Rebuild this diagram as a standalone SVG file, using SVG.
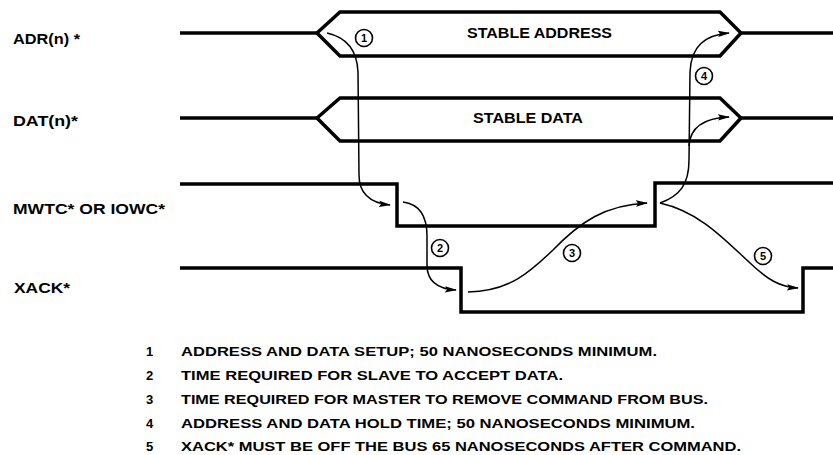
<svg xmlns="http://www.w3.org/2000/svg" width="833" height="455" viewBox="0 0 833 455">
<style>
.sig{fill:none;stroke:#000;stroke-width:3.5;stroke-linejoin:miter}
.arr{fill:none;stroke:#000;stroke-width:1.5}
.lbl{font-family:"Liberation Sans",Arial,sans-serif;font-weight:bold;font-size:14px;fill:#000}
.note{font-family:"Liberation Sans",Arial,sans-serif;font-weight:bold;font-size:13px;fill:#000}
.cn{font-family:"Liberation Sans",Arial,sans-serif;font-weight:bold;font-size:11px;fill:#000;text-anchor:middle}
.cc{fill:#fff;stroke:#000;stroke-width:1.6}
</style>
<defs>
<marker id="ah" viewBox="0 0 12 8" refX="11" refY="4" markerWidth="12" markerHeight="8" markerUnits="userSpaceOnUse" orient="auto">
<path d="M0,0.8 L12,4 L0,7.2 L2,4 z" fill="#000"/>
</marker>
</defs>
<rect width="833" height="455" fill="#fff"/>

<g id="adr">
<text class="lbl" x="13" y="44" textLength="67" lengthAdjust="spacingAndGlyphs">ADR(n) *</text>
<polyline class="sig" points="180,33 317,33"/>
<polygon class="sig" points="317,33 340,12 720,12 741,33 720,56 340,56"/>
<polyline class="sig" points="741,33 833,33"/>
<text class="lbl" x="467" y="38" textLength="145" lengthAdjust="spacingAndGlyphs">STABLE ADDRESS</text>
</g>

<g id="dat">
<text class="lbl" x="13" y="126" textLength="65" lengthAdjust="spacingAndGlyphs">DAT(n)*</text>
<polyline class="sig" points="180,118 317,118"/>
<polygon class="sig" points="317,118 340,98 720,98 741,118 720,141 340,141"/>
<polyline class="sig" points="741,118 833,118"/>
<text class="lbl" x="473" y="123" textLength="110" lengthAdjust="spacingAndGlyphs">STABLE DATA</text>
</g>

<g id="mwtc">
<text class="lbl" x="13" y="214" textLength="152" lengthAdjust="spacingAndGlyphs">MWTC* OR IOWC*</text>
<polyline class="sig" points="180,184 397,184 397,226 655,226 655,183 833,183"/>
</g>

<g id="xack">
<text class="lbl" x="14" y="293" textLength="56" lengthAdjust="spacingAndGlyphs">XACK*</text>
<polyline class="sig" points="180,268 461,268 461,312 803,312 803,268 833,268"/>
</g>

<g id="connectors">
<path class="arr" marker-end="url(#ah)" d="M327,33 C345,37 357,48 358,72 L359,175 C359,193 370,203 390,205"/>
<path class="arr" marker-end="url(#ah)" d="M403,202 C418,204 427,215 427,236 L427,265 C427,281 438,289 456,290"/>
<path class="arr" marker-end="url(#ah)" d="M468,292 C510,291 530,272 553,250 C580,222 605,205 647,203"/>
<path class="arr" marker-end="url(#ah)" d="M660,203 C680,196 689,184 689,160 L690,72 C691,46 705,35 729,33"/>
<path class="arr" marker-end="url(#ah)" d="M689,146 C690,128 703,118 729,117"/>
<path class="arr" marker-end="url(#ah)" d="M660,203 C700,212 725,240 750,263 C768,280 780,287 798,288"/>
</g>

<g id="c1"><circle class="cc" cx="364" cy="38" r="8.5"/><text class="cn" x="364" y="42">1</text></g>
<g id="c2"><circle class="cc" cx="440" cy="248" r="8.5"/><text class="cn" x="440" y="252">2</text></g>
<g id="c3"><circle class="cc" cx="572" cy="253" r="8.5"/><text class="cn" x="572" y="257">3</text></g>
<g id="c4"><circle class="cc" cx="704" cy="76" r="8.5"/><text class="cn" x="704" y="80">4</text></g>
<g id="c5"><circle class="cc" cx="763" cy="256" r="8.5"/><text class="cn" x="763" y="260">5</text></g>

<g id="notes">
<text class="note" x="146" y="356">1</text>
<text class="note" x="181" y="356" textLength="476" lengthAdjust="spacingAndGlyphs">ADDRESS AND DATA SETUP; 50 NANOSECONDS MINIMUM.</text>
<text class="note" x="146" y="380">2</text>
<text class="note" x="181" y="380" textLength="382" lengthAdjust="spacingAndGlyphs">TIME REQUIRED FOR SLAVE TO ACCEPT DATA.</text>
<text class="note" x="146" y="404">3</text>
<text class="note" x="181" y="404" textLength="527" lengthAdjust="spacingAndGlyphs">TIME REQUIRED FOR MASTER TO REMOVE COMMAND FROM BUS.</text>
<text class="note" x="146" y="428">4</text>
<text class="note" x="181" y="428" textLength="514" lengthAdjust="spacingAndGlyphs">ADDRESS AND DATA HOLD TIME; 50 NANOSECONDS MINIMUM.</text>
<text class="note" x="146" y="451">5</text>
<text class="note" x="181" y="451" textLength="560" lengthAdjust="spacingAndGlyphs">XACK* MUST BE OFF THE BUS 65 NANOSECONDS AFTER COMMAND.</text>
</g>
</svg>
